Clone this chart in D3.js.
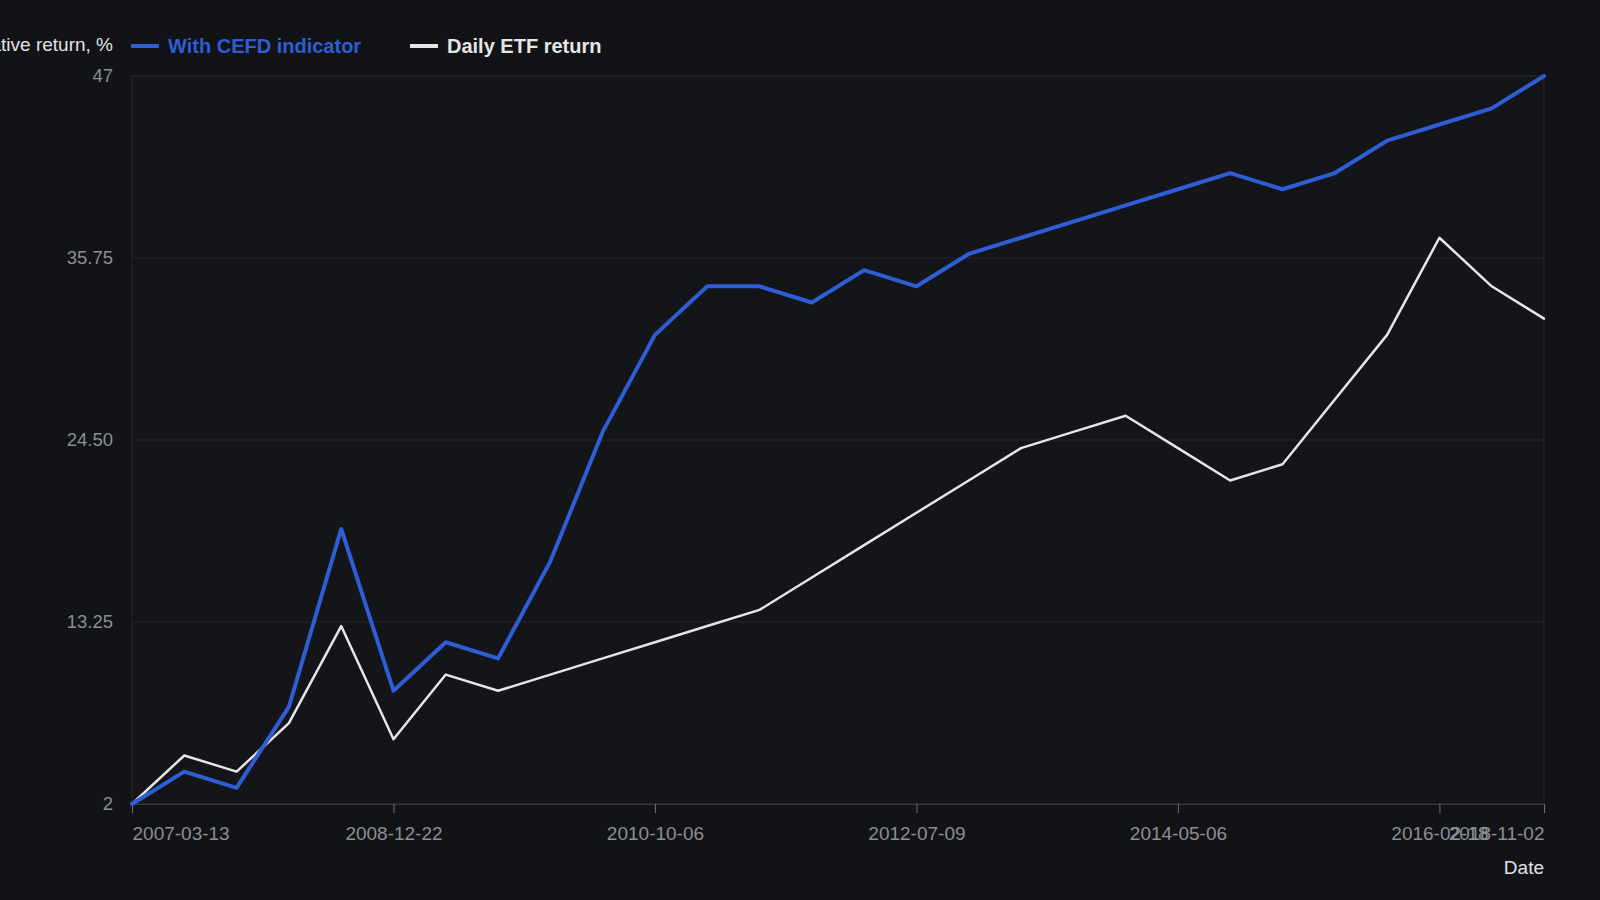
<!DOCTYPE html>
<html>
<head>
<meta charset="utf-8">
<script src="https://cdn.jsdelivr.net/npm/d3@7"></script>
<style>
  html, body { margin: 0; padding: 0; background: #121316; }
  svg { display: block; font-family: "Liberation Sans", Arial, sans-serif; }
</style>
</head>
<body>
<svg id="chart" width="1600" height="900"></svg>
<script>
// categories (x) and the two series
const dates = [
  '2007-03-13', '2007-07-21', '2007-11-28', '2008-04-07', '2008-08-14',
  '2008-12-22', '2009-05-01', '2009-09-08', '2010-01-16', '2010-05-27',
  '2010-10-06', '2011-02-12', '2011-06-22', '2011-10-30', '2012-03-01',
  '2012-07-09', '2012-11-17', '2013-03-28', '2013-08-05', '2013-12-20',
  '2014-05-06', '2014-09-12', '2015-01-20', '2015-05-31', '2015-10-08',
  '2016-02-18', '2017-06-25', '2018-11-02'
];
const withCefd = [2, 4, 3, 8, 19, 9, 12, 11, 17, 25, 31, 34, 34, 33, 35, 34, 36, 37, 38, 39, 40, 41, 40, 41, 43, 44, 45, 47];
const dailyEtf = [2, 5, 4, 7, 13, 6, 10, 9, 10, 11, 12, 13, 14, 16, 18, 20, 22, 24, 25, 26, 24, 22, 23, 27, 31, 37, 34, 32];
const yTicks = [2, 13.25, 24.5, 35.75, 47];
const xTickIdx = [0, 5, 10, 15, 20, 25, 27];

const series = [
  { name: 'With CEFD indicator', values: withCefd, color: '#2e5dd5', width: 4 },
  { name: 'Daily ETF return', values: dailyEtf, color: '#e6e6e6', width: 2.5 }
];

const margin = { top: 76, right: 56, bottom: 96, left: 132 };
const W = 1600, H = 900;
const iw = W - margin.left - margin.right;
const ih = H - margin.top - margin.bottom;

const svg = d3.select('#chart');
const g = svg.append('g').attr('transform', `translate(${margin.left},${margin.top})`);

const x = d3.scalePoint().domain(dates).range([0, iw]);
const y = d3.scaleLinear().domain([2, 47]).range([ih, 0]);

// plot background + border
g.append('rect')
  .attr('width', iw)
  .attr('height', ih)
  .attr('fill', '#141519')
  .attr('stroke', '#26282d')
  .attr('stroke-width', 1);

// horizontal grid
g.append('g')
  .selectAll('line')
  .data(yTicks)
  .enter()
  .append('line')
  .attr('x1', 0)
  .attr('x2', iw)
  .attr('y1', (d) => y(d))
  .attr('y2', (d) => y(d))
  .attr('stroke', '#24262b')
  .attr('stroke-width', 1);

// y axis labels
const yAxis = g.append('g')
  .call(d3.axisLeft(y).tickValues(yTicks).tickSize(0).tickPadding(19)
    .tickFormat((d) => (d === 2 || d === 47 ? d3.format('d')(d) : d3.format('.2f')(d))));
yAxis.select('.domain').remove();
yAxis.selectAll('text')
  .attr('fill', '#8b8e94')
  .attr('font-size', 18.5);

// x axis
const xAxis = g.append('g')
  .attr('transform', `translate(0,${ih})`)
  .call(d3.axisBottom(x).tickValues(xTickIdx.map((i) => dates[i])).tickSize(9).tickPadding(14));
xAxis.select('.domain').attr('stroke', '#3a3c42');
xAxis.selectAll('.tick line').attr('stroke', '#6d7076');
xAxis.selectAll('text')
  .attr('fill', '#8b8e94')
  .attr('font-size', 19)
  .attr('text-anchor', (d, i, n) => (i === 0 ? 'start' : i === n.length - 1 ? 'end' : 'middle'));

// axis titles
svg.append('text')
  .attr('x', margin.left + iw)
  .attr('y', 874)
  .attr('text-anchor', 'end')
  .attr('fill', '#e2e2e4')
  .attr('font-size', 19)
  .text('Date');

svg.append('text')
  .attr('x', 113)
  .attr('y', 51)
  .attr('text-anchor', 'end')
  .attr('fill', '#e2e2e4')
  .attr('font-size', 19)
  .text('Cumulative return, %');

// lines
const line = d3.line()
  .x((d, i) => x(dates[i]))
  .y((d) => y(d));

g.selectAll('path.series')
  .data(series.slice().reverse())
  .enter()
  .append('path')
  .attr('class', 'series')
  .attr('d', (d) => line(d.values))
  .attr('fill', 'none')
  .attr('stroke', (d) => d.color)
  .attr('stroke-width', (d) => d.width)
  .attr('stroke-linejoin', 'round')
  .attr('stroke-linecap', 'round');

// legend
const legendX = [131, 410];
const legend = svg.append('g')
  .selectAll('g')
  .data(series)
  .enter()
  .append('g')
  .attr('transform', (d, i) => `translate(${legendX[i]},46)`);

legend.append('line')
  .attr('x1', 0)
  .attr('x2', 28)
  .attr('stroke', (d) => d.color)
  .attr('stroke-width', 4);

legend.append('text')
  .attr('x', 37)
  .attr('y', 7)
  .attr('fill', (d) => d.color)
  .attr('font-size', 20)
  .attr('font-weight', 'bold')
  .text((d) => d.name);
</script>
</body>
</html>
